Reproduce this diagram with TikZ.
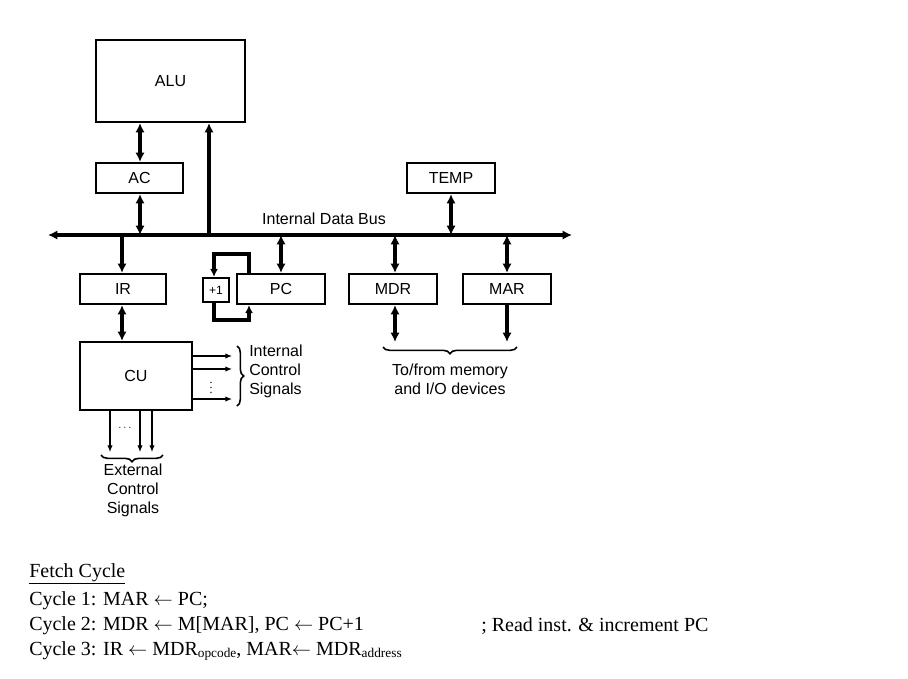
\documentclass[tikz,border=0pt]{standalone}
\usepackage{fontspec}
\setmainfont{Liberation Serif}
\newfontfamily\dsans{Liberation Sans}
\usetikzlibrary{arrows.meta,decorations.pathreplacing}
\begin{document}
\begin{tikzpicture}[x=0.75pt,y=-0.75pt,
  box/.style={draw,line width=1.6pt,font=\dsans\fontsize{12}{14}\selectfont,inner sep=0pt},
  big/.style={line width=2.4pt,-{Latex[length=7pt,width=7pt]}},
  bigb/.style={line width=2.4pt,{Latex[length=7pt,width=7pt]}-{Latex[length=7pt,width=7pt]}},
  thin/.style={line width=0.8pt,-{Latex[length=5pt,width=4pt]}},
  lbl/.style={font=\dsans\fontsize{12}{14.2}\selectfont,align=center,inner sep=0pt},
  tx/.style={font=\fontsize{15}{18}\selectfont,anchor=west,inner sep=0pt}]
\useasboundingbox (0,0) rectangle (908,679);
\node[box,minimum width=149*0.75pt,minimum height=82*0.75pt] (alu) at (170.5,81) {ALU};
\node[box,minimum width=87*0.75pt,minimum height=30*0.75pt] (ac) at (139.5,178) {AC};
\node[box,minimum width=88*0.75pt,minimum height=30*0.75pt] (temp) at (451,178) {TEMP};
\node[box,minimum width=86*0.75pt,minimum height=30*0.75pt] (ir) at (123,289) {IR};
\node[box,minimum width=26*0.75pt,minimum height=24*0.75pt,font=\dsans\fontsize{9}{9}\selectfont] (inc) at (216,290) {+1};
\node[box,minimum width=88*0.75pt,minimum height=30*0.75pt] (pc) at (281,289) {PC};
\node[box,minimum width=88*0.75pt,minimum height=30*0.75pt] (mdr) at (393,289) {MDR};
\node[box,minimum width=88*0.75pt,minimum height=30*0.75pt] (mar) at (507,289) {MAR};
\node[box,minimum width=112*0.75pt,minimum height=68*0.75pt] (cu) at (136,376) {CU};
\coordinate (bl) at (48,235); \coordinate (br) at (572,235);
\draw[bigb] (bl) -- (br);
\node[lbl] (busl) at (324,219) {Internal Data Bus};
\draw[bigb] (alu.south -| 140,0) -- (ac.north -| 140,0);
\draw[bigb] (ac.south -| 140,0) -- (140,235);
\draw[big] (209,235) -- (alu.south -| 209,0);
\draw[bigb] (temp.south) -- (451,235);
\draw[big] (122,235) -- (ir.north -| 122,0);
\draw[bigb] (ir.south -| 122,0) -- (cu.north -| 122,0);
\draw[bigb] (281,235) -- (pc.north);
\draw[bigb] (395,235) -- (mdr.north -| 395,0);
\draw[bigb] (507,235) -- (mar.north);
\draw[bigb] (mdr.south -| 395,0) -- (395,342);
\draw[big] (mar.south) -- (507,342);
\draw[line width=1.2pt,decorate,decoration={brace,amplitude=5pt,mirror}] (383,347) -- (517,347);
\node[lbl] (mem) at (450,379) {To/from memory\\and I/O devices};
\draw[line width=2.4pt,-{Latex[length=6pt,width=6pt]}] (pc.north -| 249,0) -- (249,254) -- (214,254) -- (inc.north -| 214,0);
\draw[line width=2.4pt,-{Latex[length=6pt,width=6pt]}] (inc.south -| 214,0) -- (214,320) -- (249,320) -- (pc.south -| 249,0);
\draw[thin] (cu.east |- 0,356) -- (232,356);
\draw[thin] (cu.east |- 0,369) -- (232,369);
\draw[thin] (cu.east |- 0,399) -- (232,399);
\node[font=\fontsize{9}{9}\selectfont,inner sep=0pt] (vd) at (211,384) {$\vdots$};
\draw[line width=1.2pt,decorate,decoration={brace,amplitude=5pt}] (237,346) -- (237,406);
\node[lbl,align=left,anchor=west] (ics) at (249,371) {Internal\\Control\\Signals};
\draw[thin] (cu.south -| 110,0) -- (110,452);
\draw[thin] (cu.south -| 140,0) -- (140,452);
\draw[thin] (cu.south -| 152,0) -- (152,452);
\node[font=\fontsize{8}{8}\selectfont,inner sep=0pt] (hd) at (125,428) {$\cdots$};
\draw[line width=1.2pt,decorate,decoration={brace,amplitude=5pt,mirror}] (101,455) -- (163,455);
\node[lbl] (ecs) at (133,490) {External\\Control\\Signals};
\node[tx] (f0) at (29,574) {\underline{Fetch Cycle}};
\node[tx] (f1) at (29,601) {Cycle 1: MAR $\leftarrow$ PC;};
\node[tx] (f2) at (29,626) {Cycle 2: MDR $\leftarrow$ M[MAR], PC $\leftarrow$ PC+1};
\node[tx] (f2c) at (481,626) {; Read inst. \& increment PC};
\node[tx] (f3) at (29,651) {Cycle 3: IR $\leftarrow$ MDR{\fontsize{10}{10}\selectfont\raisebox{-0.3ex}{opcode}}, MAR$\leftarrow$ MDR{\fontsize{10}{10}\selectfont\raisebox{-0.3ex}{address}}};
\end{tikzpicture}
\end{document}
